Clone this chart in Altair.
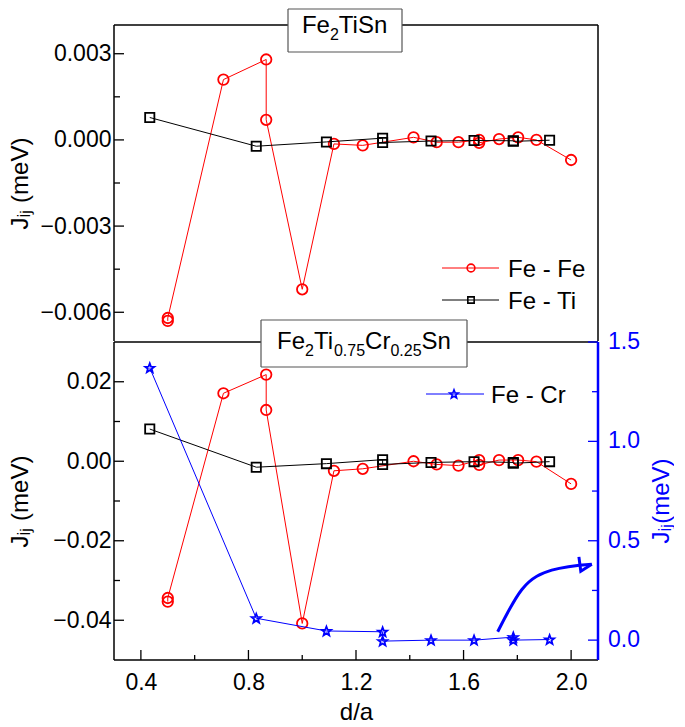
import math
import altair as alt
import pandas as pd

# ---------------- data ----------------
ff_x = [0.5, 0.5, 0.707, 0.866, 0.866, 1.0, 1.118, 1.225, 1.414, 1.5, 1.581, 1.658, 1.658, 1.732, 1.803, 1.871, 2.0]
ff_top = [-0.0063, -0.0062, 0.0021, 0.0028, 0.0007, -0.0052, -0.00014, -0.00019, 0.00009, -0.00008,
          -0.00008, 0.0, -0.0001, 0.00003, 0.00009, 0.0, -0.0007]
ff_bot = [-0.0353, -0.0344, 0.0171, 0.0218, 0.0129, -0.0408, -0.0024, -0.0019, 0.0, -0.0008,
          -0.0011, 0.0003, -0.0009, 0.0003, 0.0003, -0.0001, -0.0057]

ft_x = [0.433, 0.829, 1.090, 1.299, 1.299, 1.479, 1.639, 1.785, 1.785, 1.920]
ft_top = [0.00078, -0.00022, -0.00007, 0.00006, -0.00009, -0.00004, -0.00002, -0.00003, -0.00005, -0.00001]
ft_bot = [0.0081, -0.0015, -0.0006, 0.0004, -0.0008, -0.0003, -0.0001, -0.0003, -0.0005, -0.0001]

fc_x = ft_x
fc_y = [1.37, 0.11, 0.046, 0.042, -0.005, 0.0, 0.0, 0.015, 0.0, 0.003]

# annotation arrow (in d/a and right-axis units)
arrow_x = [1.727, 1.817, 1.928, 2.077]
arrow_y = [0.042, 0.255, 0.352, 0.382]
head_x = [2.029, 2.077, 2.036]
head_y = [0.419, 0.382, 0.347]

x_major = [0.4, 0.8, 1.2, 1.6, 2.0]
x_minor = [0.6, 1.0, 1.4, 1.8]
top_major = [-0.006, -0.003, 0.0, 0.003]
top_minor = [-0.0045, -0.0015, 0.0015]
bot_major = [-0.04, -0.02, 0.0, 0.02]
bot_minor = [-0.03, -0.01, 0.01]
r_major = [0.0, 0.5, 1.0, 1.5]
r_labels = ["0.0", "0.5", "1.0", "1.5"]
r_minor = [0.25, 0.75, 1.25]

# ---------------- style ----------------
W, H1, H2 = 484, 316, 318
FONT = "Liberation Sans"
RED, BLUE, BLACK, GREY = "#ff0000", "#0000ff", "#000000", "#555555"

XS = alt.Scale(domain=[0.3, 2.1], nice=False, zero=False)
YT = alt.Scale(domain=[-0.007, 0.004], nice=False, zero=False)
YB = alt.Scale(domain=[-0.05, 0.03], nice=False, zero=False)
TO_LEFT = "-0.05 + (datum.{f} + 0.1) * 0.05"   # right axis [-0.1, 1.5] -> left [-0.05, 0.03]

# five-pointed star as an SVG path in the [-1, 1] box
_pts = []
for k in range(10):
    r = 1.0 if k % 2 == 0 else 0.42
    a = math.radians(-90 + 36 * k)
    _pts.append(f"{r * math.cos(a):.3f} {r * math.sin(a) + 0.08:.3f}")
STAR = "M " + " L ".join(_pts) + " Z"

JIJ = "J\u1d62\u2c7c (meV)"
AXSTYLE = dict(tickSize=0, tickOpacity=0, domainOpacity=0, grid=False,
               labelFont=FONT, labelFontSize=23, titleFont=FONT, titleFontSize=24,
               titleFontWeight="normal", labelColor=BLACK, titleColor=BLACK)

TOP_Y = alt.Axis(values=top_major, format=".3f", labelPadding=3, minExtent=76, maxExtent=76,
                 title=JIJ, titlePadding=6, **AXSTYLE)
BOT_X = alt.Axis(values=x_major, format=".1f", labelPadding=11, title="d/a", titlePadding=6, **AXSTYLE)
BOT_Y = alt.Axis(values=bot_major, format=".2f", labelPadding=3, minExtent=76, maxExtent=76,
                 title=JIJ, titlePadding=6, **AXSTYLE)

one = pd.DataFrame({"k": [0]})


def series(x, y, yscale, yaxis, xaxis, color, shape, size, sw=1.8, right=False):
    df = pd.DataFrame({"x": x, "y": y})
    base = alt.Chart(df)
    yf = "y"
    if right:
        base = base.transform_calculate(yl=TO_LEFT.format(f="y"))
        yf = "yl"
    enc = dict(x=alt.X("x:Q", scale=XS, axis=xaxis), y=alt.Y(f"{yf}:Q", scale=yscale, axis=yaxis))
    line = base.mark_line(color=color, strokeWidth=1).encode(**enc)
    pts = base.mark_point(shape=shape, size=size, color=color, filled=False,
                          strokeWidth=sw, opacity=1).encode(**enc)
    return [line, pts]


def yticks(vals, scale, yaxis, length, color=BLACK, right=False):
    df = pd.DataFrame({"v": vals})
    base = alt.Chart(df)
    yf = "v"
    if right:
        base = base.transform_calculate(vl=TO_LEFT.format(f="v"))
        yf = "vl"
    x0 = W - length if right else 0
    x1 = W if right else length
    return base.mark_rule(color=color, strokeWidth=1.3).encode(
        y=alt.Y(f"{yf}:Q", scale=scale, axis=yaxis), x=alt.value(x0), x2=alt.value(x1))


def xticks(vals, xaxis, length, h):
    df = pd.DataFrame({"v": vals})
    return alt.Chart(df).mark_rule(color=BLACK, strokeWidth=1.3).encode(
        x=alt.X("v:Q", scale=XS, axis=xaxis), y=alt.value(h - length), y2=alt.value(h))


def hseg(x0, x1, y, color=BLACK, w=1.5):
    return alt.Chart(one).mark_rule(color=color, strokeWidth=w).encode(
        x=alt.value(x0), x2=alt.value(x1), y=alt.value(y))


def vseg(x, y0, y1, color=BLACK, w=1.5):
    return alt.Chart(one).mark_rule(color=color, strokeWidth=w).encode(
        x=alt.value(x), y=alt.value(y0), y2=alt.value(y1))


def txt(s, x, y, size=24, color=BLACK, angle=0, align="left", baseline="alphabetic"):
    return alt.Chart(one).mark_text(text=s, align=align, baseline=baseline, font=FONT, angle=angle,
                                    fontSize=size, color=color).encode(x=alt.value(x), y=alt.value(y))


def box(x0, x1, y0, y1):
    return [hseg(x0, x1, y0, GREY, 1.2), hseg(x0, x1, y1, GREY, 1.2),
            vseg(x0, y0, y1, GREY, 1.2), vseg(x1, y0, y1, GREY, 1.2)]


def sym(x, y, shape, size, color):
    return alt.Chart(one).mark_point(shape=shape, size=size, color=color, filled=False,
                                     strokeWidth=1.6, opacity=1).encode(x=alt.value(x), y=alt.value(y))


AW = {'F': 0.611, 'e': 0.556, 'T': 0.611, 'i': 0.222, 'S': 0.667, 'n': 0.556, 'C': 0.722,
      'r': 0.333, '0': 0.556, '2': 0.556, '5': 0.556, '7': 0.556, '.': 0.278}


def formula(parts, cx, by, big=24, small=16, drop=7):
    widths = [sum(AW[c] for c in s) * (small if sub else big) for s, sub in parts]
    x = cx - sum(widths) / 2
    out = []
    for (s, sub), w in zip(parts, widths):
        out.append(txt(s, x, by + (drop if sub else 0), small if sub else big))
        x += w
    return out


def legend_row(x0, x1, xs, y, color, shape, size, label, tx):
    return [hseg(x0, x1, y, color, 1), sym(xs, y, shape, size, color), txt(label, tx, y + 8.5)]


def curve(xs, ys, interp):
    df = pd.DataFrame({"x": xs, "y": ys})
    return alt.Chart(df).transform_calculate(yl=TO_LEFT.format(f="y")).mark_line(
        color=BLUE, strokeWidth=3, interpolate=interp).encode(
        x=alt.X("x:Q", scale=XS, axis=BOT_X), y=alt.Y("yl:Q", scale=YB, axis=BOT_Y))


def right_labels():
    df = pd.DataFrame({"v": r_major, "lab": r_labels})
    return alt.Chart(df).transform_calculate(vl=TO_LEFT.format(f="v")).mark_text(
        align="left", baseline="middle", font=FONT, fontSize=23, color=BLUE).encode(
        x=alt.value(W + 10), y=alt.Y("vl:Q", scale=YB, axis=BOT_Y), text="lab:N")


# ---------------- top panel ----------------
B1 = (174, 288, -16, 27)
top_layers = [
    *series(ff_x, ff_top, YT, TOP_Y, None, RED, "circle", 110),
    *series(ft_x, ft_top, YT, TOP_Y, None, BLACK, "square", 85),
    hseg(0, B1[0], 0), hseg(B1[1], W, 0), vseg(0, 0, H1), vseg(W, 0, H1),
    yticks(top_major, YT, TOP_Y, 10), yticks(top_minor, YT, TOP_Y, 6),
    *legend_row(328, 385, 357, 243, RED, "circle", 60, "Fe - Fe", 394),
    *legend_row(328, 385, 357, 275, BLACK, "square", 40, "Fe - Ti", 394),
    *box(*B1),
    *formula([("Fe", False), ("2", True), ("TiSn", False)], 231, 8),
]
top = alt.layer(*top_layers).properties(width=W, height=H1)

# ---------------- bottom panel ----------------
B2 = (147, 353, -22, 25)
bottom_layers = [
    *series(ff_x, ff_bot, YB, BOT_Y, BOT_X, RED, "circle", 110),
    *series(ft_x, ft_bot, YB, BOT_Y, BOT_X, BLACK, "square", 85),
    *series(fc_x, fc_y, YB, BOT_Y, BOT_X, BLUE, STAR, 95, right=True),
    hseg(0, B2[0], 0), hseg(B2[1], W, 0), vseg(0, 0, H2), hseg(0, W, H2),
    yticks(bot_major, YB, BOT_Y, 10), yticks(bot_minor, YB, BOT_Y, 6),
    xticks(x_major, BOT_X, 10, H2), xticks(x_minor, BOT_X, 5, H2),
    yticks(r_major, YB, BOT_Y, 10, BLUE, right=True), yticks(r_minor, YB, BOT_Y, 6, BLUE, right=True),
    vseg(W, 0, H2, BLUE, 2.5),
    right_labels(),
    txt("J\u1d62\u2c7c(meV)", W + 64, H2 / 2, 24, BLUE, angle=270, align="center", baseline="middle"),
    curve(arrow_x, arrow_y, "monotone"),
    curve(head_x, head_y, "linear"),
    *legend_row(312, 370, 340, 52, BLUE, STAR, 80, "Fe - Cr", 377),
    *box(*B2),
    *formula([("Fe", False), ("2", True), ("Ti", False), ("0.75", True), ("Cr", False),
              ("0.25", True), ("Sn", False)], 250, 7),
]
bottom = alt.layer(*bottom_layers).properties(width=W, height=H2)

chart = alt.vconcat(top, bottom, spacing=-23, padding=0).configure_view(strokeWidth=0)

chart.save("out.html", embed_options={"renderer": "svg", "actions": False})
